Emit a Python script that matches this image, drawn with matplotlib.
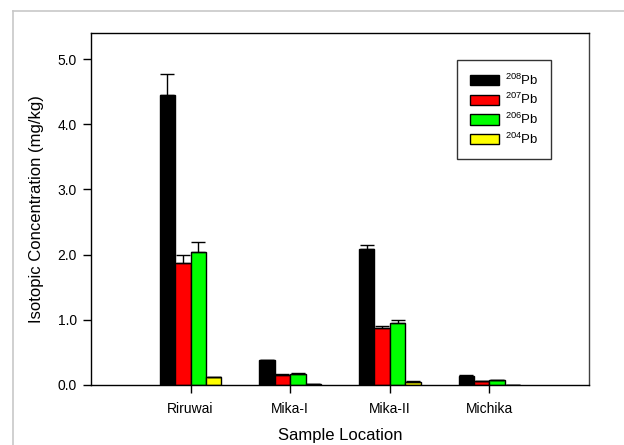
import matplotlib
matplotlib.use("Agg")
import matplotlib.pyplot as plt
import numpy as np
from matplotlib.lines import Line2D

plt.rcParams['font.family'] = ['Liberation Sans', 'DejaVu Sans']
plt.rcParams['mathtext.fontset'] = 'custom'
plt.rcParams['mathtext.rm'] = 'Liberation Sans'
plt.rcParams['mathtext.it'] = 'Liberation Sans:italic'

# Sample locations and lead isotope concentrations (mg/kg)
locations = ["Riruwai", "Mika-I", "Mika-II", "Michika"]
isotopes = [r"$^{208}$Pb", r"$^{207}$Pb", r"$^{206}$Pb", r"$^{204}$Pb"]
pb208 = [4.45, 0.38, 2.08, 0.14]
pb207 = [1.87, 0.16, 0.87, 0.06]
pb206 = [2.04, 0.17, 0.95, 0.07]
pb204 = [0.12, 0.01, 0.05, 0.005]
# Standard deviations (upper error bars)
pb208_err = [0.32, 0.01, 0.07, 0.01]
pb207_err = [0.13, 0.005, 0.03, 0.005]
pb206_err = [0.15, 0.01, 0.04, 0.005]
pb204_err = [0.01, 0.0, 0.01, 0.0]

series = [pb208, pb207, pb206, pb204]
errors = [pb208_err, pb207_err, pb206_err, pb204_err]
colors = ["#000000", "#ff0000", "#00ff00", "#ffff00"]

W, H = 624, 445
fig = plt.figure(figsize=(W / 100, H / 100), dpi=100)
ax = fig.add_axes([91 / W, 1 - 385 / H, (589 - 91) / W, (385 - 33) / H])

x = np.arange(1, len(locations) + 1)
width = 0.155
offsets = (np.arange(4) - 1.5) * width
for vals, errs, col, lab, off in zip(series, errors, colors, isotopes, offsets):
    ax.bar(x + off, vals, width, color=col, edgecolor="black", linewidth=1.0,
           label=lab, zorder=2)
    ax.errorbar(x + off, vals, yerr=[np.zeros(len(errs)), errs], fmt="none",
                ecolor="black", elinewidth=1.0, capsize=5, capthick=1.0, zorder=3)

ax.set_xlim(0, 5)
ax.set_ylim(0, 5.4)
ax.set_xticks(x)
ax.set_xticklabels(locations)
ax.set_yticks(np.arange(0, 5.01, 1.0))
ax.set_yticklabels([f"{v:.1f}" for v in np.arange(0, 5.01, 1.0)])
ax.tick_params(axis="both", direction="out", length=6, width=1.0,
               labelsize=10, pad=4)
ax.tick_params(axis="x", pad=6)
for sp in ax.spines.values():
    sp.set_linewidth(1.0)
    sp.set_color("black")
ax.spines["right"].set_color("#404040")

ax.set_ylabel("Isotopic Concentration (mg/kg)", fontsize=12, labelpad=10)
ax.set_xlabel("Sample Location", fontsize=12, labelpad=9)

leg = fig.legend(loc="upper left", bbox_to_anchor=(457 / W, 1 - 60 / H),
                 bbox_transform=fig.transFigure, borderaxespad=0,
                 fontsize=9.5, frameon=True, fancybox=False, borderpad=0.95,
                 labelspacing=0.34, handlelength=2.2, handleheight=0.8,
                 handletextpad=0.5)
leg.get_frame().set_edgecolor("black")
leg.get_frame().set_linewidth(1.0)

# Light grey outer frame
fig.add_artist(Line2D([13 / W, 13 / W], [0, 1 - 11 / H], color="#c8c8c8",
                      lw=1.2, transform=fig.transFigure))
fig.add_artist(Line2D([13 / W, 1], [1 - 11 / H, 1 - 11 / H], color="#c8c8c8",
                      lw=1.2, transform=fig.transFigure))

fig.savefig("out.png", dpi=100)
